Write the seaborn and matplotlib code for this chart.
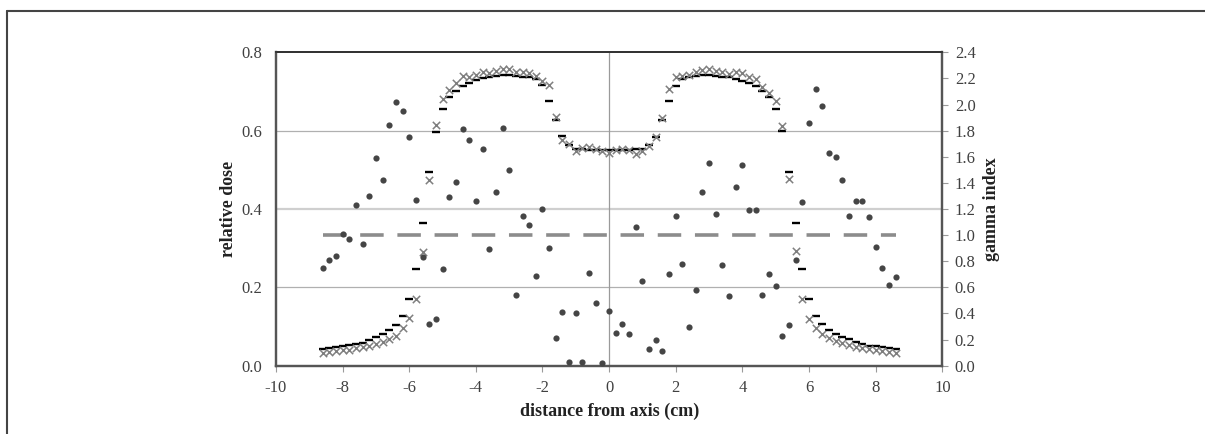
import numpy as np
import pandas as pd
import matplotlib
matplotlib.use("Agg")
import matplotlib.pyplot as plt
import seaborn as sns
from matplotlib.lines import Line2D

# posizioni di misura (cm), passo 0.2
distance = np.linspace(-8.6, 8.6, 87)

# dose relativa misurata (trattini neri)
dose_measured = [
    0.042, 0.045, 0.047, 0.050, 0.052, 0.055, 0.059, 0.066, 0.073, 0.080, 0.092,
    0.105, 0.126, 0.170, 0.246, 0.364, 0.494, 0.597, 0.656, 0.685, 0.702, 0.714,
    0.722, 0.729, 0.734, 0.738, 0.740, 0.741, 0.741, 0.740, 0.738, 0.736, 0.731,
    0.716, 0.676, 0.627, 0.586, 0.563, 0.554, 0.552, 0.551, 0.551, 0.550, 0.550,
    0.550, 0.551, 0.551, 0.552, 0.554, 0.563, 0.585, 0.627, 0.676, 0.714, 0.731,
    0.737, 0.740, 0.741, 0.741, 0.740, 0.738, 0.737, 0.733, 0.727, 0.722, 0.714,
    0.702, 0.685, 0.656, 0.600, 0.494, 0.363, 0.246, 0.170, 0.126, 0.106, 0.091,
    0.080, 0.074, 0.067, 0.060, 0.055, 0.051, 0.049, 0.047, 0.045, 0.043,
]

# dose relativa calcolata (croci grigie)
dose_calculated = [
    0.033, 0.035, 0.037, 0.039, 0.041, 0.044, 0.047, 0.051, 0.055, 0.060, 0.067,
    0.077, 0.095, 0.121, 0.170, 0.290, 0.473, 0.614, 0.680, 0.705, 0.721, 0.739,
    0.738, 0.743, 0.750, 0.746, 0.753, 0.758, 0.757, 0.750, 0.750, 0.748, 0.739,
    0.727, 0.717, 0.634, 0.576, 0.565, 0.549, 0.556, 0.557, 0.554, 0.547, 0.542,
    0.551, 0.554, 0.551, 0.540, 0.547, 0.562, 0.585, 0.632, 0.706, 0.736, 0.739,
    0.743, 0.750, 0.755, 0.757, 0.752, 0.750, 0.745, 0.750, 0.747, 0.737, 0.733,
    0.712, 0.697, 0.675, 0.612, 0.476, 0.292, 0.170, 0.118, 0.097, 0.081, 0.071,
    0.064, 0.058, 0.052, 0.048, 0.045, 0.042, 0.039, 0.037, 0.035, 0.033,
]

# indice gamma (punti, asse destro)
gamma_index = [
    0.75, 0.81, 0.84, 1.01, 0.97, 1.23, 0.93, 1.30, 1.59, 1.42, 1.84,
    2.02, 1.95, 1.75, 1.27, 0.83, 0.32, 0.36, 0.74, 1.29, 1.41, 1.81,
    1.73, 1.26, 1.66, 0.89, 1.33, 1.82, 1.50, 0.54, 1.15, 1.08, 0.69,
    1.20, 0.90, 0.21, 0.41, 0.03, 0.40, 0.03, 0.71, 0.48, 0.02, 0.42,
    0.25, 0.32, 0.24, 1.06, 0.65, 0.13, 0.20, 0.11, 0.70, 1.15, 0.78,
    0.30, 0.58, 1.33, 1.55, 1.16, 0.77, 0.53, 1.37, 1.54, 1.19, 1.19,
    0.54, 0.70, 0.61, 0.23, 0.31, 0.81, 1.25, 1.86, 2.12, 1.99, 1.63,
    1.60, 1.42, 1.15, 1.26, 1.26, 1.14, 0.91, 0.75, 0.62, 0.68,
]

gamma_threshold = 1.0

df = pd.DataFrame({
    "distance": distance,
    "measured": dose_measured,
    "calculated": dose_calculated,
    "gamma": gamma_index,
})
df_thr = pd.DataFrame({"distance": [distance[0], distance[-1]],
                       "gamma": [gamma_threshold, gamma_threshold]})

sns.set_style("white")
plt.rcParams["font.family"] = ["Liberation Serif", "DejaVu Serif"]

fig = plt.figure(figsize=(12.05, 4.34), dpi=100)
ax = fig.add_axes([0.229, 0.1574, 0.553, 0.7221])
ax2 = ax.twinx()

# griglia e asse x=0
for yv, c, w in [(0.2, "#b0b0b0", 0.9), (0.4, "#cfcfcf", 1.6), (0.6, "#b0b0b0", 0.9)]:
    ax.axhline(yv, color=c, lw=w, zorder=0)
ax.axvline(0, color="#9a9a9a", lw=0.9, zorder=0)

sns.scatterplot(data=df, x="distance", y="measured", ax=ax, marker="_",
                s=40, linewidth=1.7, color="black", zorder=3)
sns.scatterplot(data=df, x="distance", y="calculated", ax=ax, marker="x",
                s=28, linewidth=1.1, color="#7f7f7f", zorder=4)

sns.lineplot(data=df_thr, x="distance", y="gamma", ax=ax2, color="#8c8c8c",
             lw=2.6, dashes=False, zorder=2).lines[0].set_dashes([6.5, 3.8])
sns.scatterplot(data=df, x="distance", y="gamma", ax=ax2, marker="o",
                s=20, linewidth=0, color="#454545", zorder=5)

ax.set_xlim(-10, 10)
ax.set_ylim(0, 0.8)
ax2.set_ylim(0, 2.4)
ax.set_xticks(np.arange(-10, 11, 2))
ax.set_xticklabels([str(v) for v in range(-10, 11, 2)])
ax.set_yticks(np.arange(0, 0.81, 0.2))
ax.set_yticklabels([f"{v:.1f}" for v in np.arange(0, 0.81, 0.2)])
ax2.set_yticks(np.arange(0, 2.41, 0.2))
ax2.set_yticklabels([f"{v:.1f}" for v in np.arange(0, 2.41, 0.2)])

ax.tick_params(axis="y", length=0, labelsize=12, labelcolor="#404040", pad=10)
ax.tick_params(axis="x", length=4, width=0.8, color="#9a9a9a", direction="out",
               labelsize=12, labelcolor="#404040", pad=6, bottom=True)
ax2.tick_params(axis="y", length=4, width=0.8, color="#9a9a9a", direction="out",
                labelsize=12, labelcolor="#404040", pad=5, right=True)

for a in (ax, ax2):
    for side in ["left", "right", "bottom"]:
        a.spines[side].set_color("#555555")
        a.spines[side].set_linewidth(1.6)
    a.spines["top"].set_color("#333333")
    a.spines["top"].set_linewidth(1.3)

ax.set_xlabel("distance from axis (cm)", fontsize=13, fontweight="bold",
              color="#222222", labelpad=5)
ax.set_ylabel("relative dose", fontsize=13, fontweight="bold",
              color="#222222", labelpad=3)
ax2.set_ylabel("gamma index", fontsize=13, fontweight="bold",
               color="#222222", labelpad=5)

# cornice della figura (sopra e a sinistra)
fig.add_artist(Line2D([7 / 1205, 1.0], [1 - 11 / 434, 1 - 11 / 434],
                      color="#444444", lw=1.5, transform=fig.transFigure))
fig.add_artist(Line2D([7 / 1205, 7 / 1205], [0.0, 1 - 11 / 434],
                      color="#444444", lw=1.5, transform=fig.transFigure))

fig.savefig("out.png", dpi=100, facecolor="white")
